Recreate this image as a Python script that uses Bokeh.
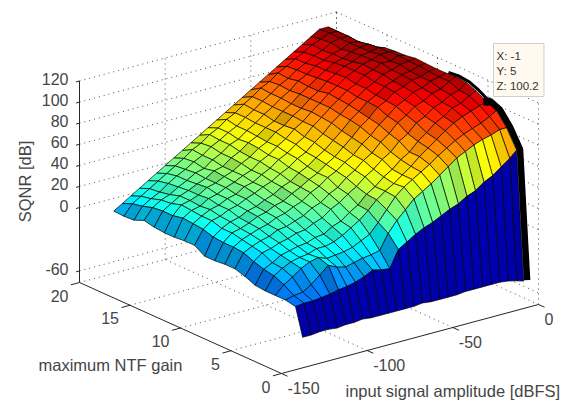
import numpy as np
from bokeh.plotting import figure
from bokeh.models import ColumnDataSource
from bokeh.core.properties import value
from bokeh.embed import file_html
from bokeh.resources import INLINE

# ---- data ----
amplitude_dbfs = [-130,-125,-120,-115,-110,-105,-100,-95,-90,-85,-80,-75,-70,-65,-60,-55,-50,-45,-40,-35,-30,-25,-20,-15,-10,-5,-1]
ntf_gain = [1.3,2,3,4,5,6,7,8,9,10,11,12,13,14,15,16,17,18,19,20]
sqnr_g01 = [-51,-51,-50,-50,-51,-50,-50,-49,-50,-50,-50,-50,-50,-50,-49,-50,-50,-50,-50,-49,-49,-49,-49,-49,-50,-52,-54]
sqnr_g02 = [-25,-24,-24,-23,-22,-20,-19,-17,-14,-10,-12,-13,3,8,13,17,20,24,28,31,36,39,45,49,55,61,67]
sqnr_g03 = [-23,-21,-20,-15,-8,-1,-5,-7,-5,-3,-2,0,14,24,32,40,45,50,56,62,68,72,76,79,81,84,84]
sqnr_g04 = [-23,-15,-10,-4,0,2,-1,0,1,3,7,11,20,30,40,47,52,57,62,68,73,78,82,85,88,92,96]
sqnr_g05 = [-23,-11,-6,-2,0,1,4,4,6,10,15,20,27,35,41,46,52,58,65,71,77,83,88,92,95,98,100.2]
sqnr_g06 = [-22,-9,-5,0,2,4,5,8,9,14,17,23,28,36,41,48,53,60,65,73,79,86,90,96,98,103,106]
sqnr_g07 = [-18,-6,0,2,5,7,10,11,15,18,24,28,34,39,46,51,58,63,71,76,84,88,94,97,102,104,110]
sqnr_g08 = [-15,-2,2,5,7,11,12,15,18,23,26,32,36,43,48,55,60,68,74,82,87,93,96,101,103,108,111]
sqnr_g09 = [-15,-1,4,7,10,12,16,18,22,25,31,35,41,45,51,56,64,70,78,84,91,95,100,102,106,108,110]
sqnr_g10 = [-16,-1,6,8,11,15,17,21,23,28,32,37,41,47,52,59,66,74,80,88,92,98,101,105,106,109,110]
sqnr_g11 = [-16,0,6,10,12,16,18,22,25,30,33,39,43,49,54,61,68,76,82,89,93,99,102,106,107,110,110.5]
sqnr_g12 = [-10,3,9,11,15,17,21,24,28,31,36,40,46,50,57,63,71,77,84,89,95,99,104,106,109,110,111]
sqnr_g13 = [-10,4,9,13,15,19,21,26,28,33,37,43,47,53,58,66,72,79,85,91,95,101,104,108,108,111,109.5]
sqnr_g14 = [-11,5,10,12,17,19,23,26,30,33,39,43,49,54,61,66,73,79,86,91,97,101,105,107,110,110,109]
sqnr_g15 = [-11,3,11,13,16,21,23,27,30,35,39,45,49,56,60,67,72,79,84,91,96,101,103,107,108,110,108]
sqnr_g16 = [-10,3,8,13,16,20,23,28,30,36,40,46,50,56,60,67,72,79,84,90,95,100,102,106,108,109,105]
sqnr_g17 = [-8,2,7,10,15,19,24,26,32,36,42,45,51,56,62,67,73,78,85,89,95,98,102,104,108,107,103]
sqnr_g18 = [-12,-1,4,8,14,19,23,28,32,38,42,47,51,57,62,68,73,79,83,89,93,98,101,106,108,108,102.5]
sqnr_g19 = [-12.6,-3,2,7,12,17,22,27,33,37,43,47,53,57,63,68,74,78,84,88,93,97,102,105,109,108,101.5]
sqnr_g20 = [-12,-7,-2,3,8,13,18,23,28,33,38,43,48,53,58,63,68,73,78,83,88,93,98,103,108,108,102]
x_ticks = [0,-50,-100,-150]
y_ticks = [0,5,10,15,20]
z_ticks = [120,100,80,60,40,20,0,-60]
tip_x, tip_y, tip_z = -1, 5, 100.2

Z = np.array([sqnr_g01,sqnr_g02,sqnr_g03,sqnr_g04,sqnr_g05,sqnr_g06,sqnr_g07,sqnr_g08,sqnr_g09,sqnr_g10,
              sqnr_g11,sqnr_g12,sqnr_g13,sqnr_g14,sqnr_g15,sqnr_g16,sqnr_g17,sqnr_g18,sqnr_g19,sqnr_g20],dtype=float)
X = np.array(amplitude_dbfs,dtype=float); Y = np.array(ntf_gain,dtype=float)

ZFLOOR = -71
def proj(x,y,z):
    x,y,z = np.asarray(x,float),np.asarray(y,float),np.asarray(z,float)
    a = x+150
    return 281+a*257/150-y*202/20, 373-a*69/150-y*91/20-(z-ZFLOOR)*1.055

def jet(t):
    t=float(np.clip(t,0,1))
    r=np.clip(min(4*t-1.5,-4*t+4.5),0,1); g=np.clip(min(4*t-0.5,-4*t+3.5),0,1); b=np.clip(min(4*t+0.5,-4*t+2.5),0,1)
    return r,g,b

CMIN,CMAX = -70,116
W,H = 560,400
p = figure(width=W,height=H,x_range=(0,W),y_range=(H,0),toolbar_location=None,output_backend="svg",
           x_axis_type=None,y_axis_type=None,min_border=0,outline_line_color=None,background_fill_color="white")
p.grid.visible=False

def seg(a,b):
    px,py=proj([a[0],b[0]],[a[1],b[1]],[a[2],b[2]])
    return list(px),list(py)
grid=[]
ZTOP=120
for zt in z_ticks:
    grid.append(seg((-150,20,zt),(0,20,zt))); grid.append(seg((0,20,zt),(0,0,zt)))
for xt in x_ticks[:-1]:
    grid.append(seg((xt,20,ZFLOOR),(xt,20,ZTOP))); grid.append(seg((xt,0,ZFLOOR),(xt,20,ZFLOOR)))
for yt in y_ticks:
    grid.append(seg((0,yt,ZFLOOR),(0,yt,ZTOP)))
    if yt>0: grid.append(seg((-150,yt,ZFLOOR),(0,yt,ZFLOOR)))
p.multi_line([g[0] for g in grid],[g[1] for g in grid],line_color="#222222",line_alpha=0.8,line_width=1,line_dash="1 4")

# surface, far cells first
sxg=(Z[:,1:]-Z[:,:-1])/(X[1:]-X[:-1])
def slope_dev(i,j):
    s=(sxg[i,j]+sxg[i+1,j])/2
    l=(sxg[i,max(j-1,0)]+sxg[i+1,max(j-1,0)])/2
    r=(sxg[i,min(j+1,sxg.shape[1]-1)]+sxg[i+1,min(j+1,sxg.shape[1]-1)])/2
    return s-(l+r)/2
xs,ys,cols=[],[],[]
for j in range(len(X)-2,-1,-1):
    for i in range(len(Y)-2,-1,-1):
        cx=[X[j],X[j+1],X[j+1],X[j]]; cy=[Y[i],Y[i],Y[i+1],Y[i+1]]
        cz=[Z[i,j],Z[i,j+1],Z[i+1,j+1],Z[i+1,j]]
        px,py=proj(cx,cy,cz)
        shade=float(np.clip(1.0-0.3*slope_dev(i,j),0.82,1.0))
        if i==0: shade=0.72
        r,g,b=jet((Z[i,j]-CMIN)/(CMAX-CMIN))
        cols.append("#%02x%02x%02x"%(int(r*shade*255),int(g*shade*255),int(b*shade*255)))
        xs.append(list(px)); ys.append(list(py))
p.patches("xs","ys",source=ColumnDataSource(dict(xs=xs,ys=ys,c=cols)),fill_color="c",line_color="black",line_alpha=0.68,line_width=1)

# dense black rim at the high-amplitude edge
ex,ey=proj(X[-1]+1.5+0*Y[4:9],Y[4:9],Z[4:9,-1])
p.line(list(ex),list(ey),line_color="black",line_width=3)
ex,ey=proj(X[-1]+2+0*Y[0:5],Y[0:5],Z[0:5,-1])
p.line(list(ex),list(ey),line_color="black",line_width=6.5)

# axes
ax=[seg((-150,20,ZFLOOR),(-150,20,ZTOP)),seg((-150,20,ZFLOOR),(-150,0,ZFLOOR)),seg((-150,0,ZFLOOR),(0,0,ZFLOOR))]
for zt in z_ticks: ax.append(seg((-150,20,zt),(-152,20,zt)))
for yt in y_ticks: ax.append(seg((-150,yt,ZFLOOR),(-155,yt,ZFLOOR)))
for xt in x_ticks: ax.append(seg((xt,0,ZFLOOR),(xt,-0.6,ZFLOOR)))
p.multi_line([g[0] for g in ax],[g[1] for g in ax],line_color="#262626",line_width=1)

FONT=value("Liberation Sans"); GR="#454545"
def txt(x,y,s,size="16px",align="left",angle=0,color=GR):
    p.text([x],[y],[s],text_font=FONT,text_font_size=value(size),text_align=align,text_baseline="middle",
           text_color=color,angle=angle)
for zt in z_ticks:
    px,py=proj(-150,20,zt); txt(float(px)-11,float(py)-2,str(zt),align="right")
for yt in y_ticks:
    px,py=proj(-150,yt,ZFLOOR); txt(float(px)-11,float(py)+13,str(yt),align="right")
for xt in x_ticks:
    px,py=proj(xt,0,ZFLOOR); txt(float(px)+6,float(py)+14,str(xt))
txt(24,181,"SQNR [dB]",size="16.5px",align="center",angle=np.pi/2)
txt(38,364,"maximum NTF gain",size="16.5px")
txt(345,390,"input signal amplitude [dBFS]",size="16.5px")

# data tip
tx,ty=proj(tip_x,tip_y,tip_z)
p.scatter([float(tx)+1],[float(ty)],marker="square",size=7,color="black")
p.quad(left=[493],right=[543.5],top=[43],bottom=[96],fill_color="#fff9f0",line_color="#cfcfcf",line_width=1)
for k,s in enumerate([f"X: {tip_x}",f"Y: {tip_y}",f"Z: {tip_z}"]):
    txt(496,55+15*k,s,size="11.5px",color="#333333")

open("out.html","w").write(file_html(p,INLINE))
